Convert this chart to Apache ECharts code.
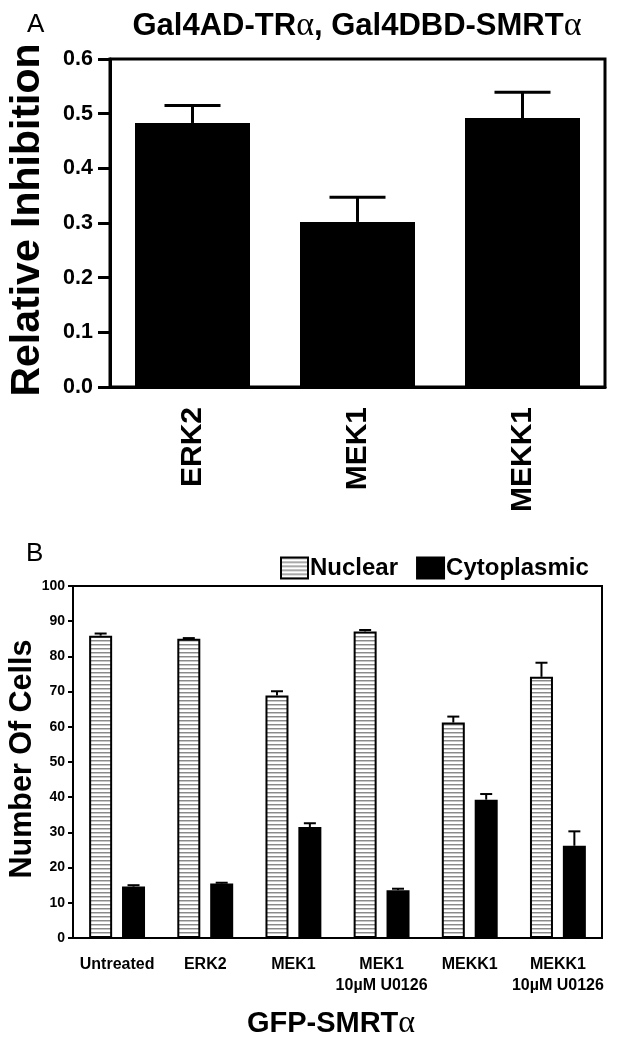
<!DOCTYPE html>
<html><head><meta charset="utf-8">
<script src="https://cdn.jsdelivr.net/npm/echarts@6/dist/echarts.min.js"></script>
<style>html,body{margin:0;padding:0;background:#fff}#c{width:619px;height:1050px}</style>
</head><body><div id="c"></div>
<script>
// ---- Panel A data ----
const catsA = ['ERK2', 'MEK1', 'MEKK1'];
const valsA = [0.483, 0.302, 0.492];
const errA  = [0.032, 0.045, 0.047];

// ---- Panel B data ----
const catsB = ['Untreated', 'ERK2', 'MEK1', 'MEK1\n10µM U0126', 'MEKK1', 'MEKK1\n10µM U0126'];
const nuclear    = [85.9, 85.0, 68.9, 87.1, 61.2, 74.2];
const nuclearErr = [0.6, 0.2, 1.2, 0.4, 1.7, 4.0];
const cyto       = [14.6, 15.5, 31.5, 13.6, 39.3, 26.2];
const cytoErr    = [0.4, 0.2, 1.1, 0.4, 1.6, 4.1];

const FONT = '"Liberation Sans", Arial, sans-serif';
const SERIF = '"Liberation Serif", "DejaVu Serif", serif';

// hatch pattern for nuclear bars
const pat = document.createElement('canvas');
pat.width = 4; pat.height = 4;
const pc = pat.getContext('2d');
pc.fillStyle = '#fff'; pc.fillRect(0, 0, 4, 4);
pc.fillStyle = '#8a8a8a'; pc.fillRect(0, 0, 4, 1);
pc.fillStyle = '#c8c8c8'; pc.fillRect(0, 1, 4, 1);

function errRender(offset, capW, lw) {
  return function (params, api) {
    const i = api.value(0), v = api.value(1), e = api.value(2);
    const p0 = api.coord([i, v]);
    const p1 = api.coord([i, v + e]);
    const cx = p0[0] + offset;
    return {
      type: 'group',
      children: [
        { type: 'line', shape: { x1: cx, y1: p0[1], x2: cx, y2: p1[1] }, style: { stroke: '#000', lineWidth: lw } },
        { type: 'line', shape: { x1: cx - capW / 2, y1: p1[1], x2: cx + capW / 2, y2: p1[1] }, style: { stroke: '#000', lineWidth: lw } }
      ]
    };
  };
}

const BW_B = 23, GAP_B = 0.43;
const offB = (BW_B + BW_B * GAP_B) / 2;

const chart = echarts.init(document.getElementById('c'), null, { renderer: 'canvas' });
chart.setOption({
  animation: false,
  backgroundColor: '#fff',
  textStyle: { fontFamily: FONT },
  graphic: [
    { type: 'text', left: 27, top: 12, style: { text: 'A', font: '26px ' + FONT, fill: '#000' } },
    { type: 'text', left: 26, top: 541, style: { text: 'B', font: '26px ' + FONT, fill: '#000' } },
    { type: 'text', x: 357, y: 26, style: {
        rich: {
          t: { fontFamily: FONT, fontWeight: 'bold', fontSize: 31, fill: '#000' },
          g: { fontFamily: SERIF, fontWeight: 'normal', fontSize: 34, fill: '#000' }
        },
        text: '{t|Gal4AD-TR}{g|α}{t|, Gal4DBD-SMRT}{g|α}',
        align: 'center', verticalAlign: 'middle'
    } },
    { type: 'text', x: 331, y: 1024, style: {
        rich: {
          t: { fontFamily: FONT, fontWeight: 'bold', fontSize: 29, fill: '#000' },
          g: { fontFamily: SERIF, fontWeight: 'normal', fontSize: 32, fill: '#000' }
        },
        text: '{t|GFP-SMRT}{g|α}',
        align: 'center', verticalAlign: 'middle'
    } },
    { type: 'text', x: 28, y: 220, rotation: Math.PI / 2, style: {
        text: 'Relative Inhibition', font: 'bold 41px ' + FONT, fill: '#000',
        align: 'center', verticalAlign: 'middle'
    } },
    { type: 'text', x: 23, y: 759, rotation: Math.PI / 2, style: {
        text: 'Number Of Cells', font: 'bold 30.5px ' + FONT, fill: '#000',
        align: 'center', verticalAlign: 'middle'
    } }
  ],
  legend: {
    left: 275, top: 551,
    itemWidth: 27, itemHeight: 21, itemGap: 18,
    icon: 'rect',
    data: ['Nuclear', 'Cytoplasmic'],
    textStyle: { fontFamily: FONT, fontWeight: 'bold', fontSize: 24, color: '#000', padding: [0, 0, 0, -3] }
  },
  grid: [
    { left: 110, right: 14, top: 59, bottom: 663, show: true, borderColor: '#000', borderWidth: 3, backgroundColor: 'transparent' },
    { left: 73, right: 17, top: 586, bottom: 112, show: true, borderColor: '#000', borderWidth: 2, backgroundColor: 'transparent' }
  ],
  xAxis: [
    { type: 'category', gridIndex: 0, data: catsA,
      axisLine: { lineStyle: { color: '#000', width: 3 } },
      axisTick: { show: false },
      axisLabel: { rotate: 90, margin: 20, color: '#000', fontFamily: FONT, fontWeight: 'bold', fontSize: 30 } },
    { type: 'category', gridIndex: 1, data: catsB,
      axisLine: { lineStyle: { color: '#000', width: 2 } },
      axisTick: { show: false },
      axisLabel: { margin: 16, color: '#000', fontFamily: FONT, fontWeight: 'bold', fontSize: 16, lineHeight: 21, interval: 0 } }
  ],
  yAxis: [
    { type: 'value', gridIndex: 0, min: 0, max: 0.6, interval: 0.1,
      axisLine: { show: true, lineStyle: { color: '#000', width: 3 } },
      axisTick: { show: true, length: 12, lineStyle: { color: '#000', width: 3 } },
      splitLine: { show: false },
      axisLabel: { margin: 17, color: '#000', fontFamily: FONT, fontWeight: 'bold', fontSize: 21.5, formatter: v => v.toFixed(1) } },
    { type: 'value', gridIndex: 1, min: 0, max: 100, interval: 10,
      axisLine: { show: true, lineStyle: { color: '#000', width: 2 } },
      axisTick: { show: true, length: 5, lineStyle: { color: '#000', width: 2 } },
      splitLine: { show: false },
      axisLabel: { margin: 8, color: '#000', fontFamily: FONT, fontWeight: 'bold', fontSize: 14 } }
  ],
  series: [
    { type: 'bar', xAxisIndex: 0, yAxisIndex: 0, data: valsA, barWidth: 115,
      itemStyle: { color: '#000' }, z: 2 },
    { type: 'custom', xAxisIndex: 0, yAxisIndex: 0, z: 3,
      data: valsA.map((v, i) => [i, v, errA[i]]),
      renderItem: errRender(0, 56, 3) },
    { name: 'Nuclear', type: 'bar', xAxisIndex: 1, yAxisIndex: 1, data: nuclear,
      barWidth: BW_B, barGap: (GAP_B * 100) + '%',
      itemStyle: { color: { image: pat, repeat: 'repeat' }, borderColor: '#000', borderWidth: 2 }, z: 2 },
    { name: 'Cytoplasmic', type: 'bar', xAxisIndex: 1, yAxisIndex: 1, data: cyto,
      barWidth: BW_B, barGap: (GAP_B * 100) + '%',
      itemStyle: { color: '#000', borderColor: '#000', borderWidth: 2 }, z: 2 },
    { type: 'custom', xAxisIndex: 1, yAxisIndex: 1, z: 3,
      data: nuclear.map((v, i) => [i, v, nuclearErr[i]]),
      renderItem: errRender(-offB, 12, 2) },
    { type: 'custom', xAxisIndex: 1, yAxisIndex: 1, z: 3,
      data: cyto.map((v, i) => [i, v, cytoErr[i]]),
      renderItem: errRender(offB, 12, 2) }
  ]
});
</script>
</body></html>
